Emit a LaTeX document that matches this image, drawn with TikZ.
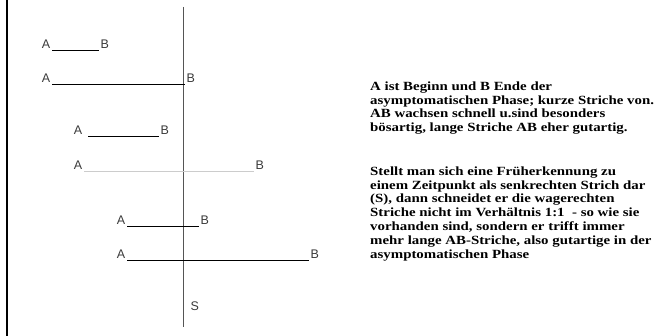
\documentclass[tikz,border=0pt]{standalone}
\usepackage{fontspec}
\setmainfont{Liberation Serif}
\newfontfamily\notefont[FakeStretch=1.19]{Liberation Serif}
\newfontfamily\labelfont{Liberation Sans}
\usetikzlibrary{positioning}
\definecolor{mark}{HTML}{3A3A3A}
\definecolor{axis}{HTML}{555555}
\definecolor{faint}{HTML}{CCCCCC}
\tikzset{
  ptA/.style={font=\labelfont\fontsize{12.5}{12.5}\selectfont,text=mark,inner sep=1.5pt,anchor=south east},
  ptB/.style={ptA,anchor=south west},
  seg/.style={line width=0.8pt},
  note/.style={font=\notefont\bfseries\fontsize{12.5}{13.8}\selectfont,align=left,anchor=north west,inner sep=0pt}
}

\begin{document}
\begin{tikzpicture}[x=1pt,y=-1pt]
  \useasboundingbox (0,0) rectangle (663,336);
  \draw[line width=2.5pt] (7,0) -- (7,336);
  \coordinate (stop) at (183,7);
  \coordinate (sbot) at (183,327);
  \draw[axis,line width=0.9pt] (stop) -- (sbot);
  \node[ptA] (a1) at (52,50) {A};
  \node[ptB] (b1) at (99,50) {B};
  \draw[seg] (a1.south east) -- (b1.south west);
  \node[ptA] (a2) at (52,84) {A};
  \node[ptB] (b2) at (185,84) {B};
  \draw[seg] (a2.south east) -- (b2.south west);
  \node[ptA] (a3) at (84,136) {A};
  \node[ptB] (b3) at (159,136) {B};
  \draw[seg] ([xshift=4pt]a3.south east) -- (b3.south west);
  \node[ptA] (a4) at (84,171) {A};
  \node[ptB] (b4) at (254,171) {B};
  \draw[seg,faint] (a4.south east) -- (b4.south west);
  \node[ptA] (a5) at (127,226) {A};
  \node[ptB] (b5) at (199,226) {B};
  \draw[seg] (a5.south east) -- (b5.south west);
  \node[ptA] (a6) at (127,260) {A};
  \node[ptB] (b6) at (309,260) {B};
  \draw[seg] (a6.south east) -- (b6.south west);
  \node[ptA,anchor=west] (s) at (189,306) {S};
  \node[note] (p1) at (370,81.5) {A ist Beginn und B Ende der\\asymptomatischen Phase; kurze Striche von.\\AB wachsen schnell u.sind besonders\\bösartig, lange Striche AB eher gutartig.};
  \node[note] (p2) at (370,166.5) {Stellt man sich eine Früherkennung zu\\einem Zeitpunkt als senkrechten Strich dar\\(S), dann schneidet er die wagerechten\\Striche nicht im Verhältnis 1:1~~- so wie sie\\vorhanden sind, sondern er trifft immer\\mehr lange AB-Striche, also gutartige in der\\asymptomatischen Phase};
\end{tikzpicture}
\end{document}
